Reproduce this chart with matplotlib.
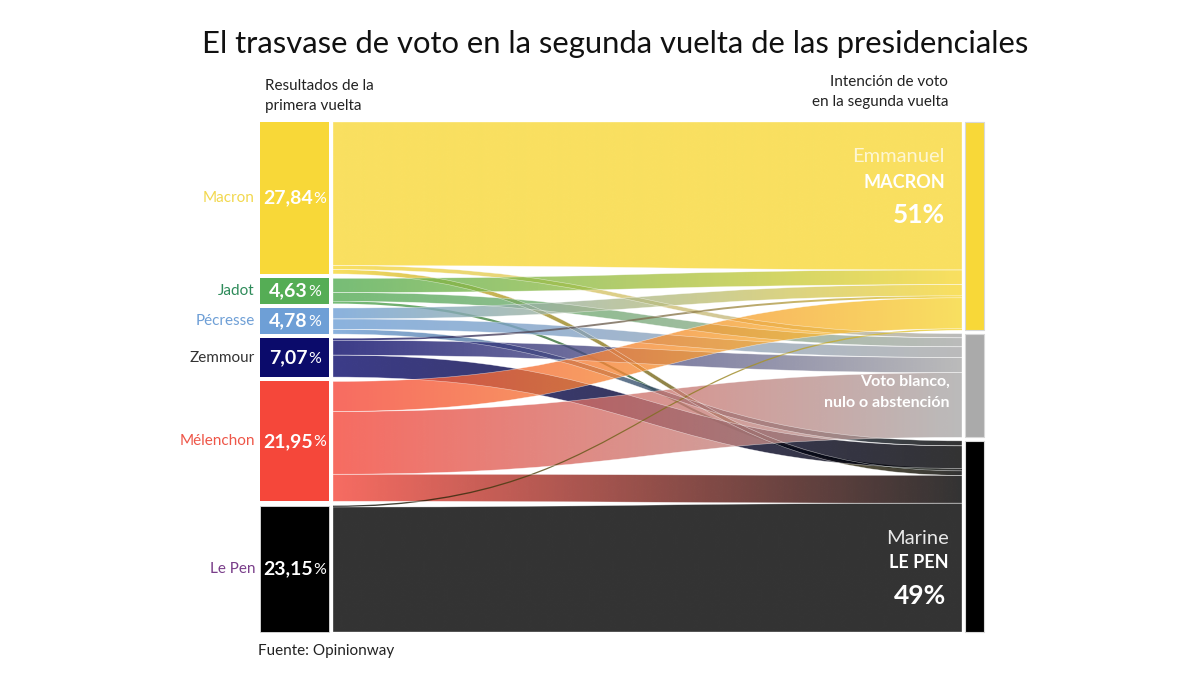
import matplotlib
matplotlib.use("Agg")
import matplotlib.pyplot as plt
import numpy as np
from matplotlib.path import Path
from matplotlib.patches import PathPatch, Rectangle
from matplotlib.colors import to_rgb

plt.rcParams['font.family'] = ['Lato', 'DejaVu Sans']

# ---------------- data ----------------
sources = ["Macron", "Jadot", "Pécresse", "Zemmour", "Mélenchon", "Le Pen"]
source_values = [27.84, 4.63, 4.78, 7.07, 21.95, 23.15]
source_value_labels = ["27,84", "4,63", "4,78", "7,07", "21,95", "23,15"]
source_colors = ["#F8D838", "#55AD55", "#6E9FD6", "#0B0B6B", "#F5473A", "#000000"]
source_label_colors = ["#F2D84E", "#2E8B5A", "#6E9FD6", "#333333", "#EE5648", "#7A3E8A"]

targets = ["Macron", "Blanco", "Le Pen"]
target_colors = ["#F8D838", "#AAAAAA", "#000000"]

# flows from each source to [Macron, Blanco/nulo/abstención, Le Pen]
flow_macron = [26.3, 0.74, 0.8]
flow_jadot = [2.6, 1.6, 0.43]
flow_pecresse = [2.0, 1.9, 0.88]
flow_zemmour = [0.35, 2.7, 4.02]
flow_melenchon = [5.5, 11.5, 4.95]
flow_lepen = [0.25, 0.0, 22.9]
flows = np.array([flow_macron, flow_jadot, flow_pecresse,
                  flow_zemmour, flow_melenchon, flow_lepen])

# arrival order of sources in each target node
target_orders = [[0, 1, 2, 3, 4, 5], [0, 1, 2, 3, 4, 5], [2, 3, 1, 0, 4, 5]]

title = "El trasvase de voto en la segunda vuelta de las presidenciales"

# ---------------- layout ----------------
W, H = 1200, 675
TOP, BOTTOM = 122, 632
LX0, LX1 = 260, 329
RX0, RX1 = 965, 984
FX0, FX1 = 333, 962
LGAP, RGAP = 4.4, 3.5

fig = plt.figure(figsize=(12, 6.75), dpi=100)
ax = fig.add_axes([0, 0, 1, 1])
ax.set_xlim(0, W)
ax.set_ylim(H, 0)
ax.axis('off')

lscale = (BOTTOM - TOP - LGAP * (len(sources) - 1)) / sum(source_values)
target_values = flows.sum(axis=0)
rscale = (BOTTOM - TOP - RGAP * (len(targets) - 1)) / target_values.sum()

# node positions
src_top = []
y = TOP
for v in source_values:
    src_top.append(y)
    y += v * lscale + LGAP
tgt_top = []
y = TOP
for v in target_values:
    tgt_top.append(y)
    y += v * rscale + RGAP

# flow end positions
left_pos = {}
for i in range(len(sources)):
    y = src_top[i]
    for j in range(len(targets)):
        h = flows[i, j] * lscale
        left_pos[(i, j)] = (y, y + h)
        y += h
right_pos = {}
for j in range(len(targets)):
    y = tgt_top[j]
    for i in target_orders[j]:
        h = flows[i, j] * rscale
        right_pos[(i, j)] = (y, y + h)
        y += h

xm = (FX0 + FX1) / 2
ncol = 256
for i in range(len(sources)):
    for j in range(len(targets)):
        if flows[i, j] <= 0:
            continue
        lt, lb = left_pos[(i, j)]
        rt, rb = right_pos[(i, j)]
        verts = [(FX0, lt), (xm, lt), (xm, rt), (FX1, rt),
                 (FX1, rb), (xm, rb), (xm, lb), (FX0, lb), (FX0, lt)]
        codes = [Path.MOVETO, Path.CURVE4, Path.CURVE4, Path.CURVE4,
                 Path.LINETO, Path.CURVE4, Path.CURVE4, Path.CURVE4, Path.CLOSEPOLY]
        path = Path(verts, codes)
        patch = PathPatch(path, facecolor='none', edgecolor='none')
        ax.add_patch(patch)
        c0 = np.array(to_rgb(source_colors[i]))
        c1 = np.array(to_rgb(target_colors[j]))
        t = np.linspace(0, 1, ncol)[:, None]
        grad = np.ones((1, ncol, 4))
        grad[0, :, :3] = c0 * (1 - t) + c1 * t
        grad[0, :, 3] = 0.8
        ymin = min(lt, rt) - 2
        ymax = max(lb, rb) + 2
        im = ax.imshow(grad, extent=[FX0, FX1, ymax, ymin], aspect='auto',
                       interpolation='bilinear', zorder=2)
        im.set_clip_path(patch)
        if flows[i, j] * lscale > 4:
            edge = PathPatch(path, facecolor='none', edgecolor='white',
                             lw=0.4, alpha=0.6, zorder=3)
            ax.add_patch(edge)

ax.set_xlim(0, W)
ax.set_ylim(H, 0)

fig.canvas.draw()
renderer = fig.canvas.get_renderer()


def text_width(txt):
    bb = txt.get_window_extent(renderer=renderer)
    return bb.width


# left nodes
for i, name in enumerate(sources):
    y0 = src_top[i]
    h = source_values[i] * lscale
    ax.add_patch(Rectangle((LX0, y0), LX1 - LX0, h, facecolor=source_colors[i],
                           edgecolor='#dddddd' if i == 5 else 'none', lw=0.6, zorder=4))
    yc = y0 + h / 2
    ax.text(LX0 - 5, yc, name, ha='right', va='center', fontsize=11,
            color=source_label_colors[i], zorder=5)
    t1 = ax.text(0, yc, source_value_labels[i], ha='left', va='center',
                 fontsize=14, fontweight='bold', color='white', zorder=5)
    t2 = ax.text(0, yc + 0.8, "%", ha='left', va='center',
                 fontsize=11.5, color='white', zorder=5)
    w1 = text_width(t1)
    w2 = text_width(t2)
    total = w1 + w2
    xs = (LX0 + LX1) / 2 - total / 2
    t1.set_x(xs)
    t2.set_x(xs + w1 + 0.5)

# right nodes
for j in range(len(targets)):
    y0 = tgt_top[j]
    h = target_values[j] * rscale
    ax.add_patch(Rectangle((RX0, y0), RX1 - RX0, h, facecolor=target_colors[j],
                           edgecolor='#d8d8d8', lw=0.8, zorder=4))

# right labels
ax.text(945, 157, "Emmanuel", ha='right', va='center', fontsize=14.5,
        color='white', alpha=0.72, zorder=6)
ax.text(945, 183, "MACRON", ha='right', va='center', fontsize=13,
        fontweight='bold', color='white', zorder=6)
ax.text(945, 215, "51%", ha='right', va='center', fontsize=19,
        fontweight='bold', color='white', zorder=6)
ax.text(950, 382, "Voto blanco,", ha='right', va='center', fontsize=11.5,
        fontweight='bold', color='white', zorder=6)
ax.text(950, 403, "nulo o abstención", ha='right', va='center', fontsize=11.5,
        fontweight='bold', color='white', zorder=6)
ax.text(949, 538, "Marine", ha='right', va='center', fontsize=14.5,
        color='#E8E8E8', zorder=6)
ax.text(949, 563, "LE PEN", ha='right', va='center', fontsize=13,
        fontweight='bold', color='white', zorder=6)
ax.text(946, 596, "49%", ha='right', va='center', fontsize=19,
        fontweight='bold', color='white', zorder=6)

# headers
ax.text(265, 86, "Resultados de la", ha='left', va='center', fontsize=11, color='#222222')
ax.text(265, 106, "primera vuelta", ha='left', va='center', fontsize=11, color='#222222')
ax.text(948, 82, "Intención de voto", ha='right', va='center', fontsize=11, color='#222222')
ax.text(948, 102, "en la segunda vuelta", ha='right', va='center', fontsize=11, color='#222222')
ax.text(258, 651, "Fuente: Opinionway", ha='left', va='center', fontsize=11, color='#222222')

# title fitted to width
tt = ax.text(615, 44, title, ha='center', va='center', fontsize=24, color='#111111')
fig.canvas.draw()
wt = text_width(tt)
tt.set_fontsize(24 * 830 / wt)

fig.savefig("out.png", dpi=100, facecolor='white')
